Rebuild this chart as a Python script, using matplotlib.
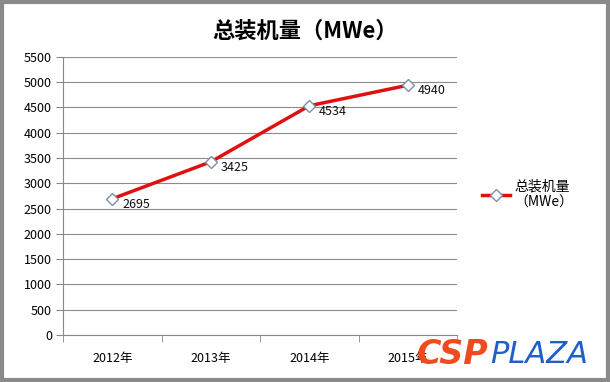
import matplotlib
matplotlib.use("Agg")
import matplotlib.pyplot as plt
from matplotlib.patches import Rectangle

plt.rcParams['font.family'] = ['Noto Sans CJK SC', 'DejaVu Sans']

categories = ["2012年", "2013年", "2014年", "2015年"]
values = [2695, 3425, 4534, 4940]
yticks = [0, 500, 1000, 1500, 2000, 2500, 3000, 3500, 4000, 4500, 5000, 5500]
title = "总装机量（MWe）"
legend_label = "总装机量\n（MWe）"

fig = plt.figure(figsize=(6.1, 3.82), dpi=100)
fig.patch.set_facecolor("white")
# outer border
fig.add_artist(Rectangle((0.003, 0.005), 0.994, 0.99, transform=fig.transFigure,
                         fill=False, edgecolor="#8a8a8a", linewidth=3))

ax = fig.add_axes([0.1033, 0.123, 0.646, 0.728])
x = list(range(len(categories)))
line, = ax.plot(x, values, color="#e01010", linewidth=2.5, marker="D", markersize=6,
                markerfacecolor="white", markeredgecolor="#7f8fa8", markeredgewidth=1.0,
                label=legend_label, zorder=3)
for xi, v in zip(x, values):
    ax.annotate(str(v), (xi, v), xytext=(7, -4), textcoords="offset points",
                fontsize=9, va="center", ha="left", color="#111111")

ax.set_xlim(-0.5, len(categories) - 0.5)
ax.set_ylim(0, 5500)
ax.set_yticks(yticks)
ax.set_yticklabels([str(t) for t in yticks], fontsize=9)
ax.set_xticks(x)
ax.set_xticklabels(categories, fontsize=9)
ax.set_xticks([i - 0.5 for i in range(len(categories) + 1)], minor=True)
ax.tick_params(axis="x", which="major", length=0, pad=12)
ax.tick_params(axis="x", which="minor", length=5, color="#888888", direction="out")
ax.tick_params(axis="y", length=5, color="#888888", direction="out", pad=3)
ax.grid(axis="y", color="#8c8c8c", linewidth=0.8)
ax.set_axisbelow(True)
for s in ["top", "right"]:
    ax.spines[s].set_visible(False)
for s in ["left", "bottom"]:
    ax.spines[s].set_color("#888888")

fig.text(0.5, 0.918, title, ha="center", va="center", fontsize=16, fontweight="bold")

fig.legend(handles=[line], labels=[legend_label], loc="center left",
           bbox_to_anchor=(0.77, 0.49), frameon=False, fontsize=10,
           handlelength=2.0, handletextpad=0.3)

# watermark
fig.text(0.683, 0.072, "CSP", fontsize=24, fontweight="heavy", fontstyle="italic",
         color="#f04a1e", family="DejaVu Sans", va="center", ha="left")
fig.text(0.803, 0.072, "PLAZA", fontsize=22, fontstyle="italic",
         color="#1f5fc8", family="DejaVu Sans", va="center", ha="left")

fig.savefig("out.png", dpi=100)
